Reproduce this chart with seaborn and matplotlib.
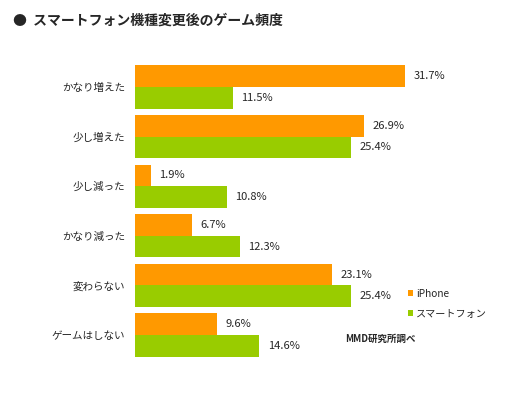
import pandas as pd
import numpy as np
import matplotlib
matplotlib.use('Agg')
import matplotlib.pyplot as plt
import seaborn as sns

# データ
categories = ['かなり増えた', '少し増えた', '少し減った', 'かなり減った', '変わらない', 'ゲームはしない']
iphone = [31.7, 26.9, 1.9, 6.7, 23.1, 9.6]
smartphone = [11.5, 25.4, 10.8, 12.3, 25.4, 14.6]
series = ['iPhone', 'スマートフォン']
colors = ['#FF9900', '#99CC00']

df = pd.DataFrame({
    'cat': categories * 2,
    'val': iphone + smartphone,
    'kind': [series[0]] * len(categories) + [series[1]] * len(categories),
})

sns.set_style('white')
plt.rcParams['font.family'] = ['Noto Sans CJK JP', 'DejaVu Sans']

fig = plt.figure(figsize=(5.1, 3.96), dpi=100)
ax = fig.add_axes([0.2647, 0.0914, 0.668, 0.7516])

sns.barplot(data=df, x='val', y='cat', hue='kind', order=categories, hue_order=series,
            palette=colors, width=0.87, saturation=1, orient='h', ax=ax, legend=True,
            linewidth=0, edgecolor='none')

for cont in ax.containers:
    ax.bar_label(cont, labels=['%.1f%%' % v for v in cont.datavalues], padding=6, fontsize=8)

ax.set_xlim(0, 40)
ax.set_ylim(5.5, -0.5)
ax.set_xlabel('')
ax.set_ylabel('')
ax.set_xticks([])
ax.tick_params(axis='y', length=0, pad=7, labelsize=7.6)
for s in ax.spines.values():
    s.set_visible(False)

handles, labels = ax.get_legend_handles_labels()
ax.legend(handles, labels, loc='upper left', bbox_to_anchor=(0.775, 0.27), frameon=False,
          handlelength=0.5, handleheight=0.5, handletextpad=0.3, labelspacing=1.0, fontsize=7.3)

fig.text(0.025, 0.948, '●  スマートフォン機種変更後のゲーム頻度', fontsize=10, fontweight='bold', va='center')
fig.text(0.676, 0.144, 'MMD研究所調べ', fontsize=6.8, fontweight='bold', va='center')

fig.savefig('out.png', dpi=100)
